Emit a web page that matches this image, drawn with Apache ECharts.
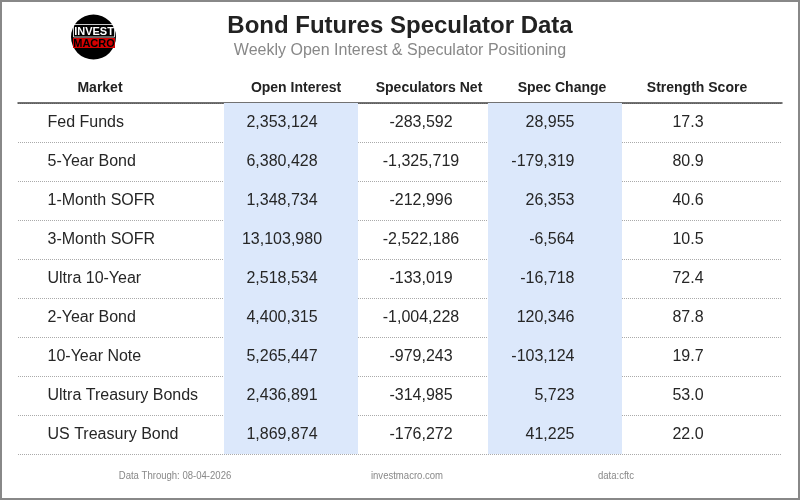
<!DOCTYPE html>
<html>
<head>
<meta charset="utf-8">
<script src="https://cdn.jsdelivr.net/npm/echarts@6/dist/echarts.min.js"></script>
<style>html,body{margin:0;padding:0;background:#fff;}#c{width:800px;height:500px;}</style>
</head>
<body>
<div id="c"></div>
<script>
const markets = ['Fed Funds','5-Year Bond','1-Month SOFR','3-Month SOFR','Ultra 10-Year','2-Year Bond','10-Year Note','Ultra Treasury Bonds','US Treasury Bond'];
const openInterest = [2353124, 6380428, 1348734, 13103980, 2518534, 4400315, 5265447, 2436891, 1869874];
const specNet = [-283592, -1325719, -212996, -2522186, -133019, -1004228, -979243, -314985, -176272];
const specChange = [28955, -179319, 26353, -6564, -16718, 120346, -103124, 5723, 41225];
const strength = [17.3, 80.9, 40.6, 10.5, 72.4, 87.8, 19.7, 53.0, 22.0];
const headers = ['Market','Open Interest','Speculators Net','Spec Change','Strength Score'];

// layout (pixels)
const GL = 18, GW = 764;
const headerX = [100, 296, 429, 562, 697];
const colAnchor = [47, 282, 421, 575, 688];
const colAlign = ['left', 'center', 'center', 'right', 'center'];
const bands = [[224, 358], [488, 622]];

const fmt = v => v.toLocaleString('en-US');
const cols = [
  markets.map(m => m),
  openInterest.map(fmt),
  specNet.map(fmt),
  specChange.map(fmt),
  strength.map(v => v.toFixed(1))
];

const posMap = {left: 'right', right: 'left', center: 'inside'};
const series = cols.map((texts, ci) => ({
  type: 'scatter',
  symbolSize: 1,
  itemStyle: {color: '#fff', opacity: 0},
  silent: true,
  data: texts.map((t, i) => ({value: [colAnchor[ci] - GL, i], txt: t})),
  label: {
    show: true,
    position: posMap[colAlign[ci]],
    distance: 0,
    formatter: p => p.data.txt,
    color: '#262626',
    opacity: 1,
    fontSize: 16,
    fontFamily: 'Liberation Sans, Arial, sans-serif'
  },
  z: 5
}));
series[0].markArea = {
  silent: true,
  itemStyle: {color: '#dce8fb', opacity: 1},
  data: bands.map(b => [{xAxis: b[0] - GL}, {xAxis: b[1] - GL}])
};

const footFont = '11.5px Liberation Sans, Arial';
const footText = (x, t) => ({type: 'text', x: x, y: 476, scaleX: 0.83, originX: 0, originY: 0,
  style: {text: t, fill: '#888', font: footFont, align: 'center', verticalAlign: 'middle'}});
const graphics = [
  {type: 'rect', shape: {x: 1, y: 1, width: 798, height: 498}, style: {fill: 'none', stroke: '#888', lineWidth: 2}, z: 100},
  {type: 'circle', shape: {cx: 93.5, cy: 37, r: 22.5}, style: {fill: '#000'}},
  {type: 'rect', shape: {x: 73.5, y: 24.5, width: 41, height: 12.5}, style: {fill: 'none', stroke: '#fff', lineWidth: 0.8}},
  {type: 'rect', shape: {x: 73, y: 38, width: 42, height: 10}, style: {fill: '#d40000'}},
  {type: 'text', x: 94, y: 31.5, style: {text: 'INVEST', fill: '#fff', font: 'bold 11px Liberation Sans, Arial', align: 'center', verticalAlign: 'middle'}},
  {type: 'text', x: 94, y: 43.5, style: {text: 'MACRO', fill: '#000', font: 'bold 11px Liberation Sans, Arial', align: 'center', verticalAlign: 'middle'}},
  {type: 'text', x: 400, y: 26, style: {text: 'Bond Futures Speculator Data', fill: '#222', font: 'bold 24px Liberation Sans, Arial', align: 'center', verticalAlign: 'middle'}},
  {type: 'text', x: 400, y: 50.5, style: {text: 'Weekly Open Interest & Speculator Positioning', fill: '#888', font: '16px Liberation Sans, Arial', align: 'center', verticalAlign: 'middle'}},
  footText(175, 'Data Through: 08-04-2026'),
  footText(407, 'investmacro.com'),
  footText(616, 'data:cftc')
];
headers.forEach((h, i) => graphics.push({
  type: 'text', x: headerX[i], y: 88,
  style: {text: h, fill: '#222', font: 'bold 14px Liberation Sans, Arial', align: 'center', verticalAlign: 'middle'}
}));

const chart = echarts.init(document.getElementById('c'), null, {renderer: 'canvas'});
chart.setOption({
  animation: false,
  backgroundColor: '#fff',
  grid: {left: GL, width: GW, top: 103, height: 351},
  xAxis: {
    type: 'value', min: 0, max: GW, position: 'top',
    axisLine: {show: true, onZero: false, lineStyle: {color: '#444', width: 1.5}},
    axisTick: {show: false}, axisLabel: {show: false}, splitLine: {show: false}
  },
  yAxis: {
    type: 'category', data: markets, inverse: true,
    axisLine: {show: false}, axisTick: {show: false}, axisLabel: {show: false},
    splitLine: {show: true, lineStyle: {type: 'dotted', color: '#aaa', width: 1}}
  },
  series: series,
  graphic: graphics
});
</script>
</body>
</html>
